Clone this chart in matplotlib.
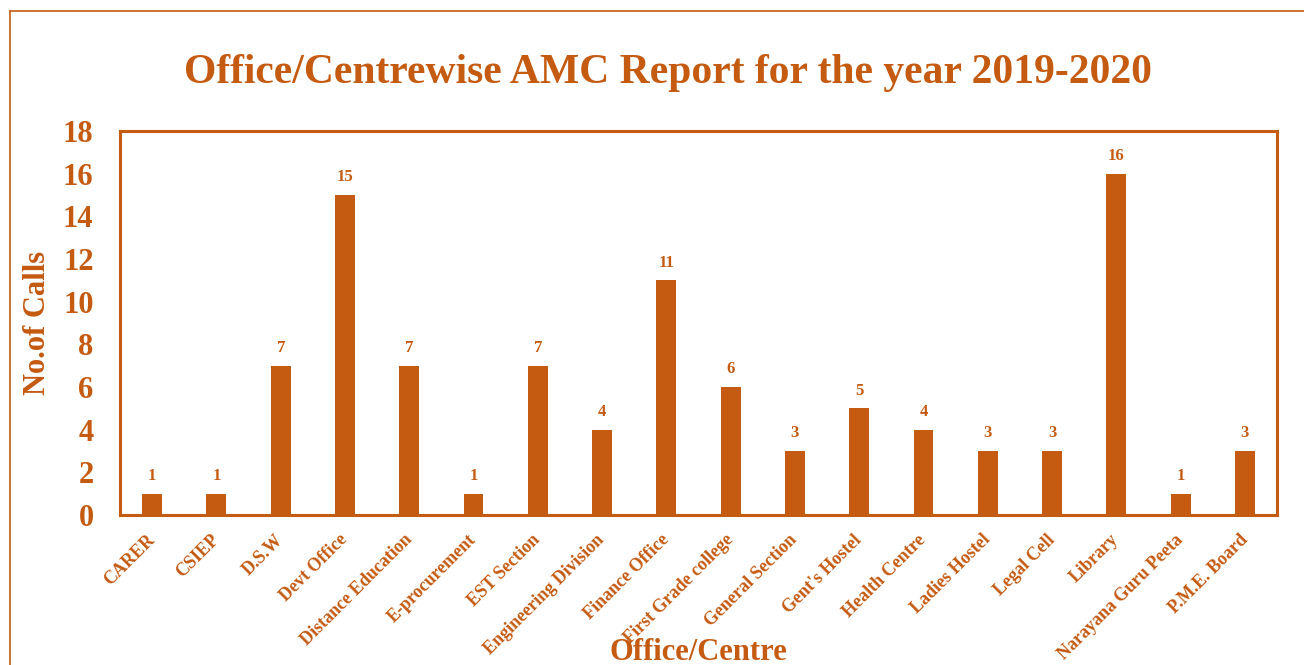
import matplotlib
matplotlib.use("Agg")
import matplotlib.pyplot as plt
from matplotlib.lines import Line2D

categories = ["CARER", "CSIEP", "D.S.W", "Devt Office", "Distance Education",
              "E-procurement", "EST Section", "Engineering Division", "Finance Office",
              "First Grade college", "General Section", "Gent's Hostel", "Health Centre",
              "Ladies Hostel", "Legal Cell", "Library", "Narayana Guru Peeta", "P.M.E. Board"]
calls = [1, 1, 7, 15, 7, 1, 7, 4, 11, 6, 3, 5, 4, 3, 3, 16, 1, 3]
yticks = [0, 2, 4, 6, 8, 10, 12, 14, 16, 18]

C = "#C55A11"
plt.rcParams['font.family'] = ['Liberation Serif', 'DejaVu Serif']
plt.rcParams['font.weight'] = 'bold'

W, H = 1304, 665
fig = plt.figure(figsize=(W / 100, H / 100), dpi=100)
ax = fig.add_axes([120 / W, 1 - 515 / H, (1277 - 120) / W, (515 - 131) / H])

x = list(range(len(categories)))
bars = ax.bar(x, calls, width=0.31, color=C, zorder=3)
for xi, v in zip(x, calls):
    ax.annotate(str(v), (xi, v), xytext=(0, 7), textcoords="offset points",
                ha="center", va="bottom", fontsize=12, fontweight="bold", color=C)

ax.set_xlim(-0.5, len(categories) - 0.5)
ax.set_ylim(0, 18)
ax.set_yticks(yticks)
ax.set_yticklabels([str(t) for t in yticks], fontsize=22, fontweight="bold", color=C)
ax.tick_params(axis="y", length=0, pad=19)
ax.set_xticks(x)
ax.set_xticklabels(categories, rotation=45, ha="right", va="center",
                   rotation_mode="anchor", fontsize=13, fontweight="bold", color=C)
ax.tick_params(axis="x", length=0, pad=16)

for s in ax.spines.values():
    s.set_color(C)
    s.set_linewidth(2.2)

ax.set_ylabel("No.of Calls", fontsize=22, fontweight="bold", color=C, labelpad=0)
ax.yaxis.set_label_coords(-0.059, 0.5)
ax.set_xlabel("Office/Centre", fontsize=22, fontweight="bold", color=C)
ax.xaxis.set_label_coords(0.5, -0.32)

fig.text(0.512, 1 - 73 / H, "Office/Centrewise AMC Report for the year 2019-2020",
         ha="center", va="center", fontsize=30, fontweight="bold", color=C)

# outer chart border (left and top edges visible)
fig.add_artist(Line2D([9.5 / W, 9.5 / W], [0, 1 - 10.5 / H], transform=fig.transFigure,
                      color=C, linewidth=1.2))
fig.add_artist(Line2D([9.5 / W, 1], [1 - 10.5 / H, 1 - 10.5 / H], transform=fig.transFigure,
                      color=C, linewidth=1.2))

fig.savefig("out.png", dpi=100)
